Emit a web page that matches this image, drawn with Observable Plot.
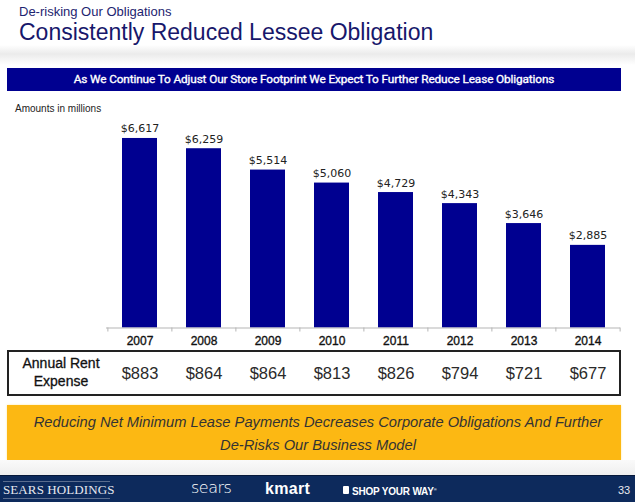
<!DOCTYPE html>
<html><head><meta charset="utf-8">
<script src="https://cdn.jsdelivr.net/npm/d3@7"></script>
<script src="https://cdn.jsdelivr.net/npm/@observablehq/plot@0.6"></script>
<style>
html,body{margin:0;padding:0}
body{width:635px;height:502px;overflow:hidden;background:#fff;position:relative;font-family:"Liberation Sans",Arial,sans-serif}
.abs{position:absolute;white-space:nowrap}
#chart{position:absolute;left:0;top:100px}
#chart svg{overflow:visible;background:transparent}
</style></head><body>
<div class="abs" style="left:0;top:45px;width:635px;height:20px;background:linear-gradient(#fff,#ebebeb 45%,#fff)"></div>
<div class="abs" style="left:19px;top:5px;font-size:13px;line-height:13px;color:#1d2470">De-risking Our Obligations</div>
<div class="abs" style="left:19px;top:21px;font-size:23px;line-height:23px;color:#17176b">Consistently Reduced Lessee Obligation</div>
<div class="abs" style="left:7px;top:68px;width:614px;height:23px;background:#000090"></div>
<div class="abs" style="left:7px;top:68px;width:614px;height:23px;color:#fff;font-size:11.8px;line-height:23px;text-align:center;font-family:Roboto,sans-serif;-webkit-text-stroke:0.35px #fff;letter-spacing:-0.12px">As We Continue To Adjust Our Store Footprint We Expect To Further Reduce Lease Obligations</div>
<div class="abs" style="left:15px;top:103px;font-size:10px;line-height:12px;color:#222">Amounts in millions</div>
<div class="abs" style="left:7px;top:350px;width:610px;height:42px;border:2px solid #222"></div>
<div class="abs" style="left:11px;top:354px;width:100px;text-align:center;font-size:14px;line-height:18px;color:#111;-webkit-text-stroke:0.3px #111">Annual Rent<br>Expense</div>
<div id="chart"></div>
<div class="abs" style="left:7px;top:405px;width:614px;height:55px;background:#fcb813;box-shadow:0 0 2px #fde9a0"></div>
<div class="abs" style="left:11px;top:411px;width:614px;text-align:center;font-size:14.7px;line-height:23px;font-style:italic;color:#333;white-space:normal">Reducing Net Minimum Lease Payments Decreases Corporate Obligations And Further<br>De-Risks Our Business Model</div>
<div class="abs" style="left:0;top:460px;width:635px;height:15px;background:linear-gradient(#fafafa,#efefef)"></div>
<div class="abs" style="left:0;top:475px;width:635px;height:27px;background:#0d2a5c;border-top:1px solid #06183a"></div>
<div class="abs" style="left:3px;top:481px;width:107px;border-top:1px solid #5a6c8e;border-bottom:1px solid #5a6c8e;height:16px"></div>
<div class="abs" style="left:3px;top:482px;font-family:'Liberation Serif',serif;font-size:13px;line-height:16px;color:#e6e8ef;letter-spacing:0.1px">SEARS HOLDINGS</div>
<div class="abs" style="left:191px;top:479px;font-family:'DejaVu Sans',sans-serif;font-weight:300;font-size:16px;line-height:18px;color:#fff;letter-spacing:-0.5px">sears</div>
<div class="abs" style="left:265px;top:480px;font-weight:bold;font-size:16px;line-height:18px;color:#fff;letter-spacing:0.3px">kmart</div>
<div class="abs" style="left:343px;top:486px;width:6px;height:8px;background:#fff;border-radius:1px"></div>
<div class="abs" style="left:352px;top:484px;font-weight:bold;font-size:10px;line-height:12px;color:#fff;letter-spacing:-0.2px">SHOP YOUR WAY<sup style="font-size:4px">®</sup></div>
<div class="abs" style="left:618px;top:484px;font-size:11px;line-height:12px;color:#e8e8ee">33</div>
<script>
const years = ["2007", "2008", "2009", "2010", "2011", "2012", "2013", "2014"];
const obligation = [6617, 6259, 5514, 5060, 4729, 4343, 3646, 2885];
const rentExpense = [883, 864, 864, 813, 826, 794, 721, 677];

const rows = years.map((y, i) => ({year: y, value: obligation[i], rent: rentExpense[i]}));
const W = 635, H = 300, mL = 106, mR = 15, mT = 27, mB = 72.5;
const yMax = 7000;
const step = (W - mL - mR) / years.length;
const unitsPerPx = yMax / (H - mT - mB);
const fmt = d3.format(",");
const bounds = years.map((y, i) => ({year: y, side: -1})).concat([{year: years[years.length - 1], side: 1}]);

const chart = Plot.plot({
  width: W, height: H,
  marginLeft: mL, marginRight: mR, marginTop: mT, marginBottom: mB,
  x: {domain: years, paddingInner: 0.455, paddingOuter: 0.2275, axis: null},
  y: {domain: [0, yMax], axis: null},
  style: {background: "transparent", overflow: "visible"},
  marks: [
    Plot.barY(rows, {x: "year", y: "value", fill: "#000090"}),
    Plot.ruleY([0], {stroke: "#b5b5b5", strokeWidth: 1}),
    Plot.ruleX(bounds.filter(d => d.side < 0), {x: "year", dx: -step / 2, y1: 0, y2: -4 * unitsPerPx, stroke: "#b5b5b5"}),
    Plot.ruleX(bounds.filter(d => d.side > 0), {x: "year", dx: step / 2, y1: 0, y2: -4 * unitsPerPx, stroke: "#b5b5b5"}),
    Plot.text(rows, {x: "year", y: "value", text: d => "$" + fmt(d.value), lineAnchor: "bottom", dy: -6, fontFamily: "DejaVu Sans", fontSize: 11, fill: "#222"}),
    Plot.text(rows, {x: "year", text: "year", frameAnchor: "bottom", lineAnchor: "middle", dy: 13.5, fontFamily: "Liberation Sans", fontSize: 12, fill: "#111", stroke: "#111", strokeWidth: 0.35}),
    Plot.text(rows, {x: "year", text: d => "$" + fmt(d.rent), frameAnchor: "bottom", lineAnchor: "middle", dy: 45.5, fontFamily: "Liberation Sans", fontSize: 16.5, fill: "#2a2a2a"})
  ]
});
document.getElementById("chart").appendChild(chart);
</script>
</body></html>
